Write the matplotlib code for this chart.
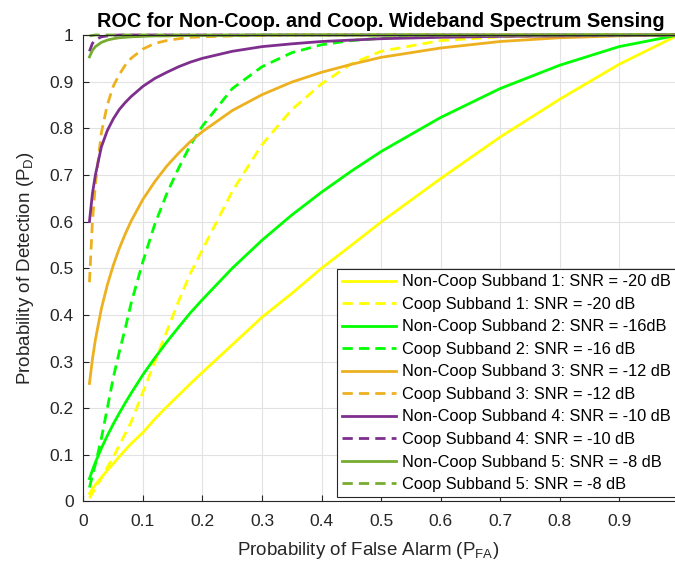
import matplotlib
matplotlib.use("Agg")
import matplotlib.pyplot as plt

plt.rcParams['font.family'] = ['Liberation Sans', 'DejaVu Sans']

# false alarm grid shared by all curves
pfa = [0.01, 0.015, 0.02, 0.03, 0.04, 0.05, 0.06, 0.07, 0.08, 0.10, 0.12, 0.14, 0.16,
       0.18, 0.20, 0.25, 0.30, 0.35, 0.40, 0.45, 0.50, 0.60, 0.70, 0.80, 0.90, 1.00]

# non-cooperative detection probabilities
nc_sub1 = [0.017, 0.027, 0.036, 0.051, 0.067, 0.081, 0.096, 0.110, 0.124, 0.148, 0.177, 0.203, 0.228,
           0.253, 0.277, 0.336, 0.395, 0.446, 0.500, 0.549, 0.599, 0.692, 0.781, 0.862, 0.937, 1.0]
nc_sub2 = [0.049, 0.067, 0.084, 0.114, 0.141, 0.166, 0.189, 0.211, 0.232, 0.272, 0.308, 0.342, 0.374,
           0.405, 0.433, 0.500, 0.560, 0.614, 0.663, 0.708, 0.750, 0.823, 0.885, 0.935, 0.975, 1.0]
nc_sub3 = [0.253, 0.305, 0.347, 0.413, 0.464, 0.506, 0.542, 0.573, 0.601, 0.648, 0.686, 0.719, 0.747,
           0.772, 0.793, 0.838, 0.872, 0.899, 0.920, 0.937, 0.952, 0.972, 0.986, 0.994, 0.998, 1.0]
nc_sub4 = [0.600, 0.660, 0.700, 0.760, 0.795, 0.820, 0.840, 0.855, 0.868, 0.890, 0.907, 0.920, 0.932,
           0.942, 0.950, 0.965, 0.975, 0.981, 0.986, 0.989, 0.992, 0.995, 0.997, 0.998, 0.999, 1.0]
nc_sub5 = [0.953, 0.967, 0.975, 0.984, 0.989, 0.992, 0.994, 0.995, 0.996, 0.997, 0.998, 0.998, 0.999,
           0.999, 0.999, 0.999, 1.0, 1.0, 1.0, 1.0, 1.0, 1.0, 1.0, 1.0, 1.0, 1.0]

# cooperative detection probabilities
co_sub1 = [0.007, 0.018, 0.028, 0.050, 0.073, 0.095, 0.120, 0.145, 0.170, 0.235, 0.300, 0.365, 0.430,
           0.490, 0.540, 0.665, 0.765, 0.840, 0.895, 0.938, 0.965, 0.988, 0.996, 0.999, 1.0, 1.0]
co_sub2 = [0.030, 0.055, 0.080, 0.135, 0.200, 0.265, 0.320, 0.370, 0.425, 0.515, 0.595, 0.660, 0.715,
           0.765, 0.805, 0.885, 0.932, 0.962, 0.979, 0.988, 0.993, 0.998, 0.999, 1.0, 1.0, 1.0]
co_sub3 = [0.470, 0.600, 0.680, 0.790, 0.850, 0.890, 0.915, 0.935, 0.950, 0.970, 0.982, 0.988, 0.992,
           0.995, 0.996, 0.998, 0.999, 1.0, 1.0, 1.0, 1.0, 1.0, 1.0, 1.0, 1.0, 1.0]
co_sub4 = [0.965, 0.982, 0.990, 0.996, 0.998, 0.999, 1.0, 1.0, 1.0, 1.0, 1.0, 1.0, 1.0,
           1.0, 1.0, 1.0, 1.0, 1.0, 1.0, 1.0, 1.0, 1.0, 1.0, 1.0, 1.0, 1.0]
co_sub5 = [0.998, 0.999, 1.0, 1.0, 1.0, 1.0, 1.0, 1.0, 1.0, 1.0, 1.0, 1.0, 1.0,
           1.0, 1.0, 1.0, 1.0, 1.0, 1.0, 1.0, 1.0, 1.0, 1.0, 1.0, 1.0, 1.0]

labels = [
    "Non-Coop Subband 1: SNR = -20 dB", "Coop Subband 1: SNR = -20 dB",
    "Non-Coop Subband 2: SNR = -16dB", "Coop Subband 2: SNR = -16 dB",
    "Non-Coop Subband 3: SNR = -12 dB", "Coop Subband 3: SNR = -12 dB",
    "Non-Coop Subband 4: SNR = -10 dB", "Coop Subband 4: SNR = -10 dB",
    "Non-Coop Subband 5: SNR = -8 dB", "Coop Subband 5: SNR = -8 dB",
]
colors = ['#ffff00', '#00ff00', '#edb120', '#7e2f8e', '#77ac30']

series = [nc_sub1, co_sub1, nc_sub2, co_sub2, nc_sub3, co_sub3, nc_sub4, co_sub4, nc_sub5, co_sub5]

fig = plt.figure(figsize=(6.75, 5.65), dpi=100)
ax = fig.add_axes([0.1237, 0.1124, 0.8815, 0.8257])

for i, (vals, lbl) in enumerate(zip(series, labels)):
    ls = '-' if i % 2 == 0 else (0, (3.7, 2.2))
    ax.plot(pfa, vals, color=colors[i // 2], lw=2, linestyle=ls, label=lbl, clip_on=False)

ax.set_xlim(0, 1)
ax.set_ylim(0, 1)
ax.set_xticks([0.1 * k for k in range(10)])
ax.set_xticklabels(['0'] + ['%.1f' % (0.1 * k) for k in range(1, 10)])
ax.set_yticks([0.1 * k for k in range(11)])
ax.set_yticklabels(['0'] + ['%.1f' % (0.1 * k) for k in range(1, 10)] + ['1'])

ax.grid(True, color='#e2e2e2', lw=0.8)
ax.set_axisbelow(True)
ax.tick_params(direction='in', length=4, color='#262626', labelcolor='#262626',
               labelsize=12.5, pad=7)
ax.tick_params(axis='x', pad=9)
for sp in ax.spines.values():
    sp.set_color('#262626')
    sp.set_linewidth(0.8)

ax.set_xlabel('Probability of False Alarm ($\\mathregular{P_{FA}}$)', fontsize=13.5,
              color='#262626')
ax.xaxis.set_label_coords(0.478, -0.083)
ax.set_ylabel('Probability of Detection ($\\mathregular{P_D}$)', fontsize=13.5,
              color='#262626', labelpad=10)
ax.set_title('ROC for Non-Coop. and Coop. Wideband Spectrum Sensing', fontsize=14.3,
             fontweight='bold', pad=6)

leg = ax.legend(loc='lower left', bbox_to_anchor=(0.426, 0.0096), borderaxespad=0,
                fontsize=11.8, fancybox=False, edgecolor='#262626', framealpha=1,
                handlelength=3.3, handletextpad=0.35, labelspacing=0.46, borderpad=0.3)
leg.get_frame().set_linewidth(0.8)

fig.savefig('out.png', dpi=100)
